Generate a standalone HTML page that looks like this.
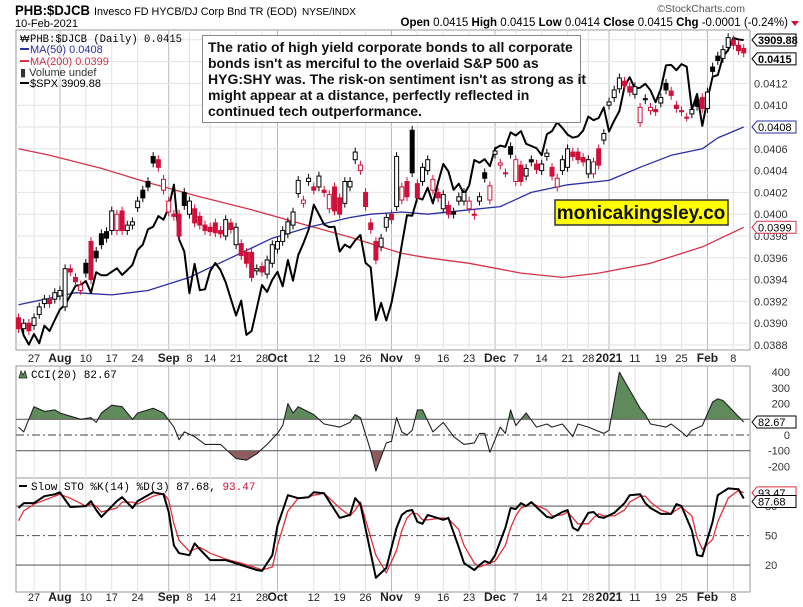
<!DOCTYPE html>
<html><head><meta charset="utf-8">
<style>
html,body{margin:0;padding:0;background:#fff;}
svg{display:block;font-family:"Liberation Sans",Arial,sans-serif;}
</style></head>
<body>
<svg id="chart" width="803" height="607" viewBox="0 0 803 607" xmlns="http://www.w3.org/2000/svg">
  <rect width="803" height="607" fill="#fff"/>
  <g>
    <text x="15" y="15" font-size="14" font-weight="bold" fill="#000" textLength="75" lengthAdjust="spacingAndGlyphs">PHB:$DJCB</text>
    <text x="94" y="15" font-size="11" fill="#000" textLength="203" lengthAdjust="spacingAndGlyphs">Invesco FD HYCB/DJ Corp Bnd TR (EOD)</text>
    <text x="302" y="15" font-size="10" fill="#000">NYSE/INDX</text>
    <text x="15" y="27" font-size="11" fill="#000">10-Feb-2021</text>
    <text x="745" y="12" font-size="10.5" fill="#555" text-anchor="end">©StockCharts.com</text>
    <text x="788" y="26" font-size="11.5" fill="#000" text-anchor="end"><tspan font-weight="bold">Open</tspan> 0.0415 <tspan font-weight="bold">High</tspan> 0.0415 <tspan font-weight="bold">Low</tspan> 0.0414 <tspan font-weight="bold">Close</tspan> 0.0415 <tspan font-weight="bold">Chg</tspan> -0.0001 (-0.24%)</text>
    <path d="M791 21 L799 21 L795 26 Z" fill="#d0103a"/>
  </g>
  <g id="grid"></g>
  <g id="main"></g>
  <g id="cci"></g>
  <g id="sto"></g>
  <g id="axes"></g>
  <g id="overlay"></g>
</svg>
<script>
// ---- data ----
const tickIdx = [3,8,13,18,23,29,33,37,42,47,50,57,62,67,72,77,82,87,92,96,101,106,110,114,119,124,128,133,138];
const tickLbl = ["27","Aug","10","17","24","Sep","8","14","21","28","Oct","12","19","26","Nov","9","16","23","Dec","7","14","21","28","2021","11","19","25","Feb","8"];
const monthLbl = ["Aug","Sep","Oct","Nov","Dec","2021","Feb"];
const opens = [3905,3895,3900,3898,3908,3918,3922,3922,3925,3915,
3950,3942,3930,3955,3975,3966,3982,3984,3985,3985,
4003,3985,3990,4006,4022,4030,4053,4050,4022,4002,
4000,4000,4020,4000,4005,3998,3990,3988,3992,3985,
3980,3992,3972,3973,3965,3965,3948,3952,3945,3955,
3968,3975,3982,3990,4019,4010,4030,4025,4025,4022,
4005,4025,4015,4010,4025,4050,4040,4020,3992,3975,
3970,3988,4000,4007,
4013,4030,4077,4028,4030,4040,4022,4020,4005,4008,
4002,4012,4012,4005,4000,4012,4038,4013,4055,4045,
4038,4062,4030,4045,4035,4050,4046,4040,4053,4043,
4025,4040,4043,4057,4057,4052,4037,4037,4060,4068,
4100,4107,4115,4122,4117,4110,4084,4105,4095,4096,
4102,4120,4113,4100,4095,4089,4092,4105,4107,4097,
4135,4145,4143,4153,4160,4155,4152];
const closes = [3895,3900,3893,3905,3915,3922,3918,3928,3930,3950,
3947,3938,3935,3946,3940,3960,3972,3978,4003,4000,
3985,3990,3993,4012,4015,4025,4047,4043,4032,4012,
3998,3980,4008,4012,3992,3990,3985,3984,3983,3982,
3995,3986,3988,3962,3955,3942,3950,3947,3958,3972,
3975,3985,3993,4002,4031,4013,4033,4022,4035,4020,
4018,4003,4000,4030,4030,4057,4045,4007,3986,3958,
3978,3997,3995,4053,
4025,4016,4038,4015,4043,4050,4032,4015,4018,4000,
4000,4016,4020,4012,3999,4016,4033,4026,4058,4047,
4038,4055,4050,4030,4042,4048,4041,4046,4056,4035,
4033,4050,4060,4053,4050,4048,4050,4048,4045,4074,
4103,4114,4125,4118,4112,4117,4098,4106,4098,4094,
4107,4114,4109,4097,4094,4089,4096,4099,4097,4112,
4131,4141,4151,4162,4155,4150,4148];
const spx = [3276,3236,3215,3239,3218,3258,3246,3271,
3295,3306,3327,3349,3351,3360,3333,3380,3373,3373,3381,3389,3374,3385,3397,3431,3443,3478,3484,3508,3500,
3527,3580,3455,3427,3332,3399,3339,3341,3383,3401,3385,3357,3319,3281,3315,3237,3246,3298,3351,3335,3363,
3381,3348,3408,3361,3419,3446,3477,3534,3512,3489,3483,3484,3427,3443,3436,3453,3465,3401,3391,3271,3310,3270,
3310,3370,3443,3510,3509,3550,3546,3573,3537,3585,3627,3610,3568,3582,3558,3578,3636,3630,3638,3622,
3662,3669,3666,3699,3692,3702,3673,3668,3663,3647,3695,3702,3722,3709,3694,3687,3690,3703,3735,3727,3732,3756,
3701,3726,3748,3804,3825,3799,3801,3810,3795,3768,3798,3852,3853,3841,3855,3849,3751,3787,3714,
3774,3826,3830,3872,3887,3915,3911,3909.88];
const ma50Idx = [0,11,18,25,33,41,49,56,64,68,74,79,87,93,99,106,114,120,126,132,135,140];
const ma50Val = [3917,3928,3926,3930,3942,3960,3978,3988,3997,4000,4002,4000,4004,4007,4020,4027,4031,4043,4054,4060,4070,4080];
const ma200Idx = [0,6,16,25,35,45,54,64,74,79,87,97,105,112,122,132,140];
const ma200Val = [4060,4054,4042,4029,4016,4004,3992,3979,3964,3960,3955,3946,3942,3946,3955,3970,3988];
const cciIdx = [0,1,3,5,7,8,10,12,14,15,16,18,20,22,23,26,28,30,31,32,34,36,39,40,42,44,46,48,50,51,52,53,54,57,59,62,64,65,66,68,69,71,72,73,74,75,76,77,78,80,82,84,86,88,89,90,91,93,94,95,96,98,100,102,103,105,107,108,110,113,114,116,120,121,122,125,126,128,129,130,132,134,135,136,140];
const cciVal = [50,20,180,150,160,140,120,100,110,80,140,190,180,100,140,170,140,50,-30,20,-10,-60,-60,-90,-150,-160,-120,-60,10,60,200,140,180,130,70,50,80,130,110,-100,-230,-50,-40,110,20,0,30,160,160,20,80,-10,-60,-50,10,10,-110,50,10,160,60,140,50,70,50,70,-10,70,50,10,30,400,170,130,70,50,70,20,-10,30,60,210,230,220,82.67];
const stoIdx = [0,1,3,5,7,8,10,13,14,15,16,19,20,22,23,26,28,29,30,31,33,34,35,37,40,43,46,47,49,50,52,54,56,57,59,62,64,65,66,69,71,73,74,75,76,77,78,79,82,83,85,86,88,89,90,91,92,94,95,96,97,98,99,102,103,105,106,107,108,110,111,112,113,115,117,118,120,121,122,124,126,127,128,130,131,132,134,135,137,139,140];
const stoK = [78,83,83,90,92,94,79,80,85,76,69,85,89,78,85,94,92,74,40,32,30,42,36,25,25,20,15,14,30,60,91,88,89,94,93,68,71,88,82,7,17,58,71,75,76,64,62,71,66,68,38,22,15,20,24,22,30,58,78,77,83,80,84,69,68,74,76,58,55,73,74,69,68,73,83,91,92,83,78,72,72,82,80,55,30,29,64,91,98,97,87.68];
const stoD = [65,75,82,86,90,92,88,80,82,80,74,78,84,84,82,90,93,86,62,45,34,36,38,32,26,22,17,15,18,40,75,88,89,91,93,78,70,76,84,30,12,35,55,68,73,72,66,66,68,67,56,40,22,18,20,22,24,40,58,70,78,80,83,76,70,71,74,68,62,62,68,72,70,70,76,84,90,90,84,76,72,76,79,70,48,36,46,64,88,96,93.47];

// ---- scales ----
const L = 16, R = 750;
const X = i => 18.5 + i * 5.18;
const YP = v => 345 - (v - 3880) * 1.09;
const YS = s => 40 + (3909.88 - s) * 0.4383;
const YC = v => 435 - v * 0.157;
const YK = v => 584.7 - v * 0.983;
const NS = "http://www.w3.org/2000/svg";
function mk(tag, attrs, parent) {
  const e = document.createElementNS(NS, tag);
  for (const k in attrs) e.setAttribute(k, attrs[k]);
  parent.appendChild(e);
  return e;
}
const grid = document.getElementById('grid');
const main = document.getElementById('main');
const cci = document.getElementById('cci');
const sto = document.getElementById('sto');
const axes = document.getElementById('axes');
const overlay = document.getElementById('overlay');
const svg = document.getElementById('chart');

const panels = [[30, 350], [366, 478], [478, 592]];
panels.forEach((p, k) => {
  const r = mk('rect', {x: L, y: p[0], width: R - L, height: p[1] - p[0], fill: '#fff', stroke: '#999', 'stroke-width': 1}, grid);
  
  
});
tickIdx.forEach((ti, k) => {
  const isM = monthLbl.includes(tickLbl[k]);
  panels.forEach(p => {
    const ln = mk('line', {x1: X(ti), x2: X(ti), y1: p[0], y2: p[1], stroke: isM ? '#b8b8b8' : '#e2e2e2', 'stroke-width': 1}, grid);
    
    
  });
  [362, 601].forEach(yy => {
    const t = mk('text', {x: X(ti), y: yy, 'font-size': isM ? 12 : 11, 'font-weight': isM ? 'bold' : 'normal', 'text-anchor': 'middle', fill: '#222'}, axes);
    t.textContent = tickLbl[k];
    
    
  });
});
for (let v = 3880; v <= 4160; v += 20) {
  const y = YP(v);
  if (y < 31) continue;
  const ln = mk('line', {x1: L, x2: R, y1: y, y2: y, stroke: '#e2e2e2'}, grid);
  
  
  if (v === 4140 || v === 4080) continue;
  const t = mk('text', {x: 754, y: y + 4, 'font-size': 11, fill: '#333'}, axes);
  t.textContent = (v / 100000).toFixed(4);
  
  
}
const defs = mk('defs', {}, svg);
const cp = mk('clipPath', {id: 'mainclip'}, defs);
mk('rect', {x: L, y: 30, width: R - L, height: 320}, cp);
main.setAttribute('clip-path', 'url(#mainclip)');

function poly(xs, ys, color, w, parent, name) {
  const d = xs.map((x, k) => (k ? 'L' : 'M') + x.toFixed(1) + ' ' + ys[k].toFixed(1)).join(' ');
  const p = mk('path', {d: d, fill: 'none', stroke: color, 'stroke-width': w, 'stroke-linejoin': 'round'}, parent);
  
  
  return p;
}
poly(ma200Idx.map(X), ma200Val.map(YP), '#d6324a', 1.3, main, 'ma200-line');
poly(ma50Idx.map(X), ma50Val.map(YP), '#2a2fa0', 1.3, main, 'ma50-line');
poly(spx.map((s, i) => X(i)), spx.map(YS), '#000', 2, main, 'spx-line');
for (let i = 0; i < closes.length; i++) {
  const o = opens[i], c = closes[i];
  const prev = i ? closes[i - 1] : o;
  const col = c >= prev ? '#000' : '#d0103a';
  const hollow = c >= o;
  const x = X(i);
  const g = mk('g', {}, main);
  
  
  mk('line', {x1: x, x2: x, y1: YP(Math.max(o, c) + 4), y2: YP(Math.min(o, c) - 4), stroke: col, 'stroke-width': 1}, g);
  const top = YP(Math.max(o, c)), bot = YP(Math.min(o, c));
  mk('rect', {x: x - 2, y: top, width: 4, height: Math.max(1, bot - top), fill: hollow ? '#fff' : col, stroke: col, 'stroke-width': 1}, g);
}

const cciClipA = mk('clipPath', {id: 'cciA'}, defs);
mk('rect', {x: L, y: 366, width: R - L, height: YC(100) - 366}, cciClipA);
const cciClipB = mk('clipPath', {id: 'cciB'}, defs);
mk('rect', {x: L, y: YC(-100), width: R - L, height: 478 - YC(-100)}, cciClipB);
const cx = cciIdx.map(X), cy = cciVal.map(YC);
const ptsStr = cx.map((x, k) => x.toFixed(1) + ',' + cy[k].toFixed(1)).join(' ');
const fa = mk('polygon', {points: ptsStr + ` ${cx[cx.length - 1]},${YC(100)} ${cx[0]},${YC(100)}`, fill: '#5f8a5b', 'clip-path': 'url(#cciA)'}, cci);


const fb = mk('polygon', {points: ptsStr + ` ${cx[cx.length - 1]},${YC(-100)} ${cx[0]},${YC(-100)}`, fill: '#8e5c5c', 'clip-path': 'url(#cciB)'}, cci);


[[100, 'solid'], [-100, 'solid'], [0, 'dash']].forEach(([v, s]) => {
  const ln = mk('line', {x1: L, x2: R, y1: YC(v), y2: YC(v), stroke: '#666', 'stroke-width': 1.2}, cci);
  if (s === 'dash') ln.setAttribute('stroke-dasharray', '8 3 2 3');
  
  
});
poly(cx, cy, '#222', 1.1, cci, 'cci-line');
[400, 300, 200, 0, -100, -200].forEach(v => {
  const t = mk('text', {x: 790, y: YC(v) + 4, 'font-size': 11, fill: '#333', 'text-anchor': 'end'}, axes);
  t.textContent = String(v);
  
  
});

[[80, 'solid'], [20, 'solid'], [50, 'dash']].forEach(([v, s]) => {
  const ln = mk('line', {x1: L, x2: R, y1: YK(v), y2: YK(v), stroke: '#666', 'stroke-width': 1.2}, sto);
  if (s === 'dash') ln.setAttribute('stroke-dasharray', '8 3 2 3');
  
  
});
poly(stoIdx.map(X), stoD.map(YK), '#e0303a', 1.3, sto, 'sto-d-line');
poly(stoIdx.map(X), stoK.map(YK), '#000', 2, sto, 'sto-k-line');
[80, 50, 20].forEach(v => {
  const t = mk('text', {x: 765, y: YK(v) + 4, 'font-size': 11, fill: '#333'}, axes);
  t.textContent = String(v);
  
  
});

function tag(y, txt, stroke, bold, name) {
  const g = mk('g', {}, overlay);
  
  
  mk('path', {d: `M752 ${y} L757 ${y - 6} L796 ${y - 6} L796 ${y + 6} L757 ${y + 6} Z`, fill: '#fff', stroke: stroke, 'stroke-width': 1}, g);
  const t = mk('text', {x: 758, y: y + 4, 'font-size': 11, 'font-weight': bold ? 'bold' : 'normal', fill: '#000'}, g);
  t.textContent = txt;
}
tag(YS(spx[spx.length - 1]), '3909.88', '#000', true, 'spx-value-tag');
tag(YP(closes[closes.length - 1]) + 6, '0.0415', '#000', true, 'price-value-tag');
tag(YP(ma50Val[ma50Val.length - 1]), '0.0408', '#2a2fa0', false, 'ma50-value-tag');
tag(YP(ma200Val[ma200Val.length - 1]), '0.0399', '#d6324a', false, 'ma200-value-tag');
tag(YC(cciVal[cciVal.length - 1]), '82.67', '#000', false, 'cci-value-tag');
tag(YK(stoD[stoD.length - 1]), '93.47', '#e0303a', false, 'sto-d-value-tag');
tag(YK(stoK[stoK.length - 1]) + 3, '87.68', '#000', false, 'sto-k-value-tag');
</script>
<div style="position:absolute;left:0;top:0;width:803px;height:607px;pointer-events:none;">
  <svg width="803" height="607" style="position:absolute;left:0;top:0" xmlns="http://www.w3.org/2000/svg">
    <g font-family="Liberation Sans, Arial, sans-serif">
      <text x="20" y="42" font-size="10" fill="#000">₩</text>
      <text x="30" y="42" font-size="11" font-family="Liberation Mono, monospace" fill="#000" textLength="152" lengthAdjust="spacingAndGlyphs">PHB:$DJCB (Daily) 0.0415</text>
      <line x1="20" x2="29" y1="49" y2="49" stroke="#2a2fa0" stroke-width="2"/>
      <text x="30" y="53" font-size="11" fill="#2a2fa0">MA(50) 0.0408</text>
      <line x1="20" x2="29" y1="61" y2="61" stroke="#d6324a" stroke-width="2"/>
      <text x="30" y="65" font-size="11" fill="#d6324a">MA(200) 0.0399</text>
      <text x="20" y="76" font-size="11" fill="#333">▮ Volume undef</text>
      <line x1="20" x2="29" y1="83" y2="83" stroke="#000" stroke-width="2"/>
      <text x="30" y="87" font-size="11" fill="#000">$SPX 3909.88</text>
    </g>
    <g>
      <rect x="202.5" y="35.5" width="378" height="87" fill="#fff" stroke="#888" stroke-width="1"/>
      <text font-size="14" font-weight="bold" fill="#111" font-family="Liberation Sans, Arial, sans-serif">
        <tspan x="208" y="52">The ratio of high yield corporate bonds to all corporate</tspan>
        <tspan x="208" y="68">bonds isn't as merciful to the overlaid S&amp;P 500 as</tspan>
        <tspan x="208" y="84">HYG:SHY was. The risk-on sentiment isn't as strong as it</tspan>
        <tspan x="208" y="100">might appear at a distance, perfectly reflected in</tspan>
        <tspan x="208" y="116">continued tech outperformance.</tspan>
      </text>
    </g>
    <g>
      <rect x="555" y="200" width="173" height="25" fill="#ffff00" stroke="#333" stroke-width="1.5"/>
      <text x="641" y="219" font-size="19" font-weight="bold" text-anchor="middle" fill="#111" font-family="Liberation Sans, Arial, sans-serif">monicakingsley.co</text>
    </g>
    <g>
      <path d="M19 378 L21 371 L23 375 L25 371 L27 378 Z" fill="#5f8a5b" stroke="#222" stroke-width="0.8"/>
      <text x="31" y="378" font-size="11" font-family="Liberation Mono, monospace" fill="#000">CCI(20) 82.67</text>
    </g>
    <g>
      <line x1="19" x2="27" y1="486" y2="486" stroke="#000" stroke-width="2"/>
      <text x="31" y="490" font-size="11" font-family="Liberation Mono, monospace" fill="#000">Slow STO %K(14) %D(3) 87.68, <tspan fill="#d0103a">93.47</tspan></text>
    </g>
  </svg>
</div>
</body></html>
